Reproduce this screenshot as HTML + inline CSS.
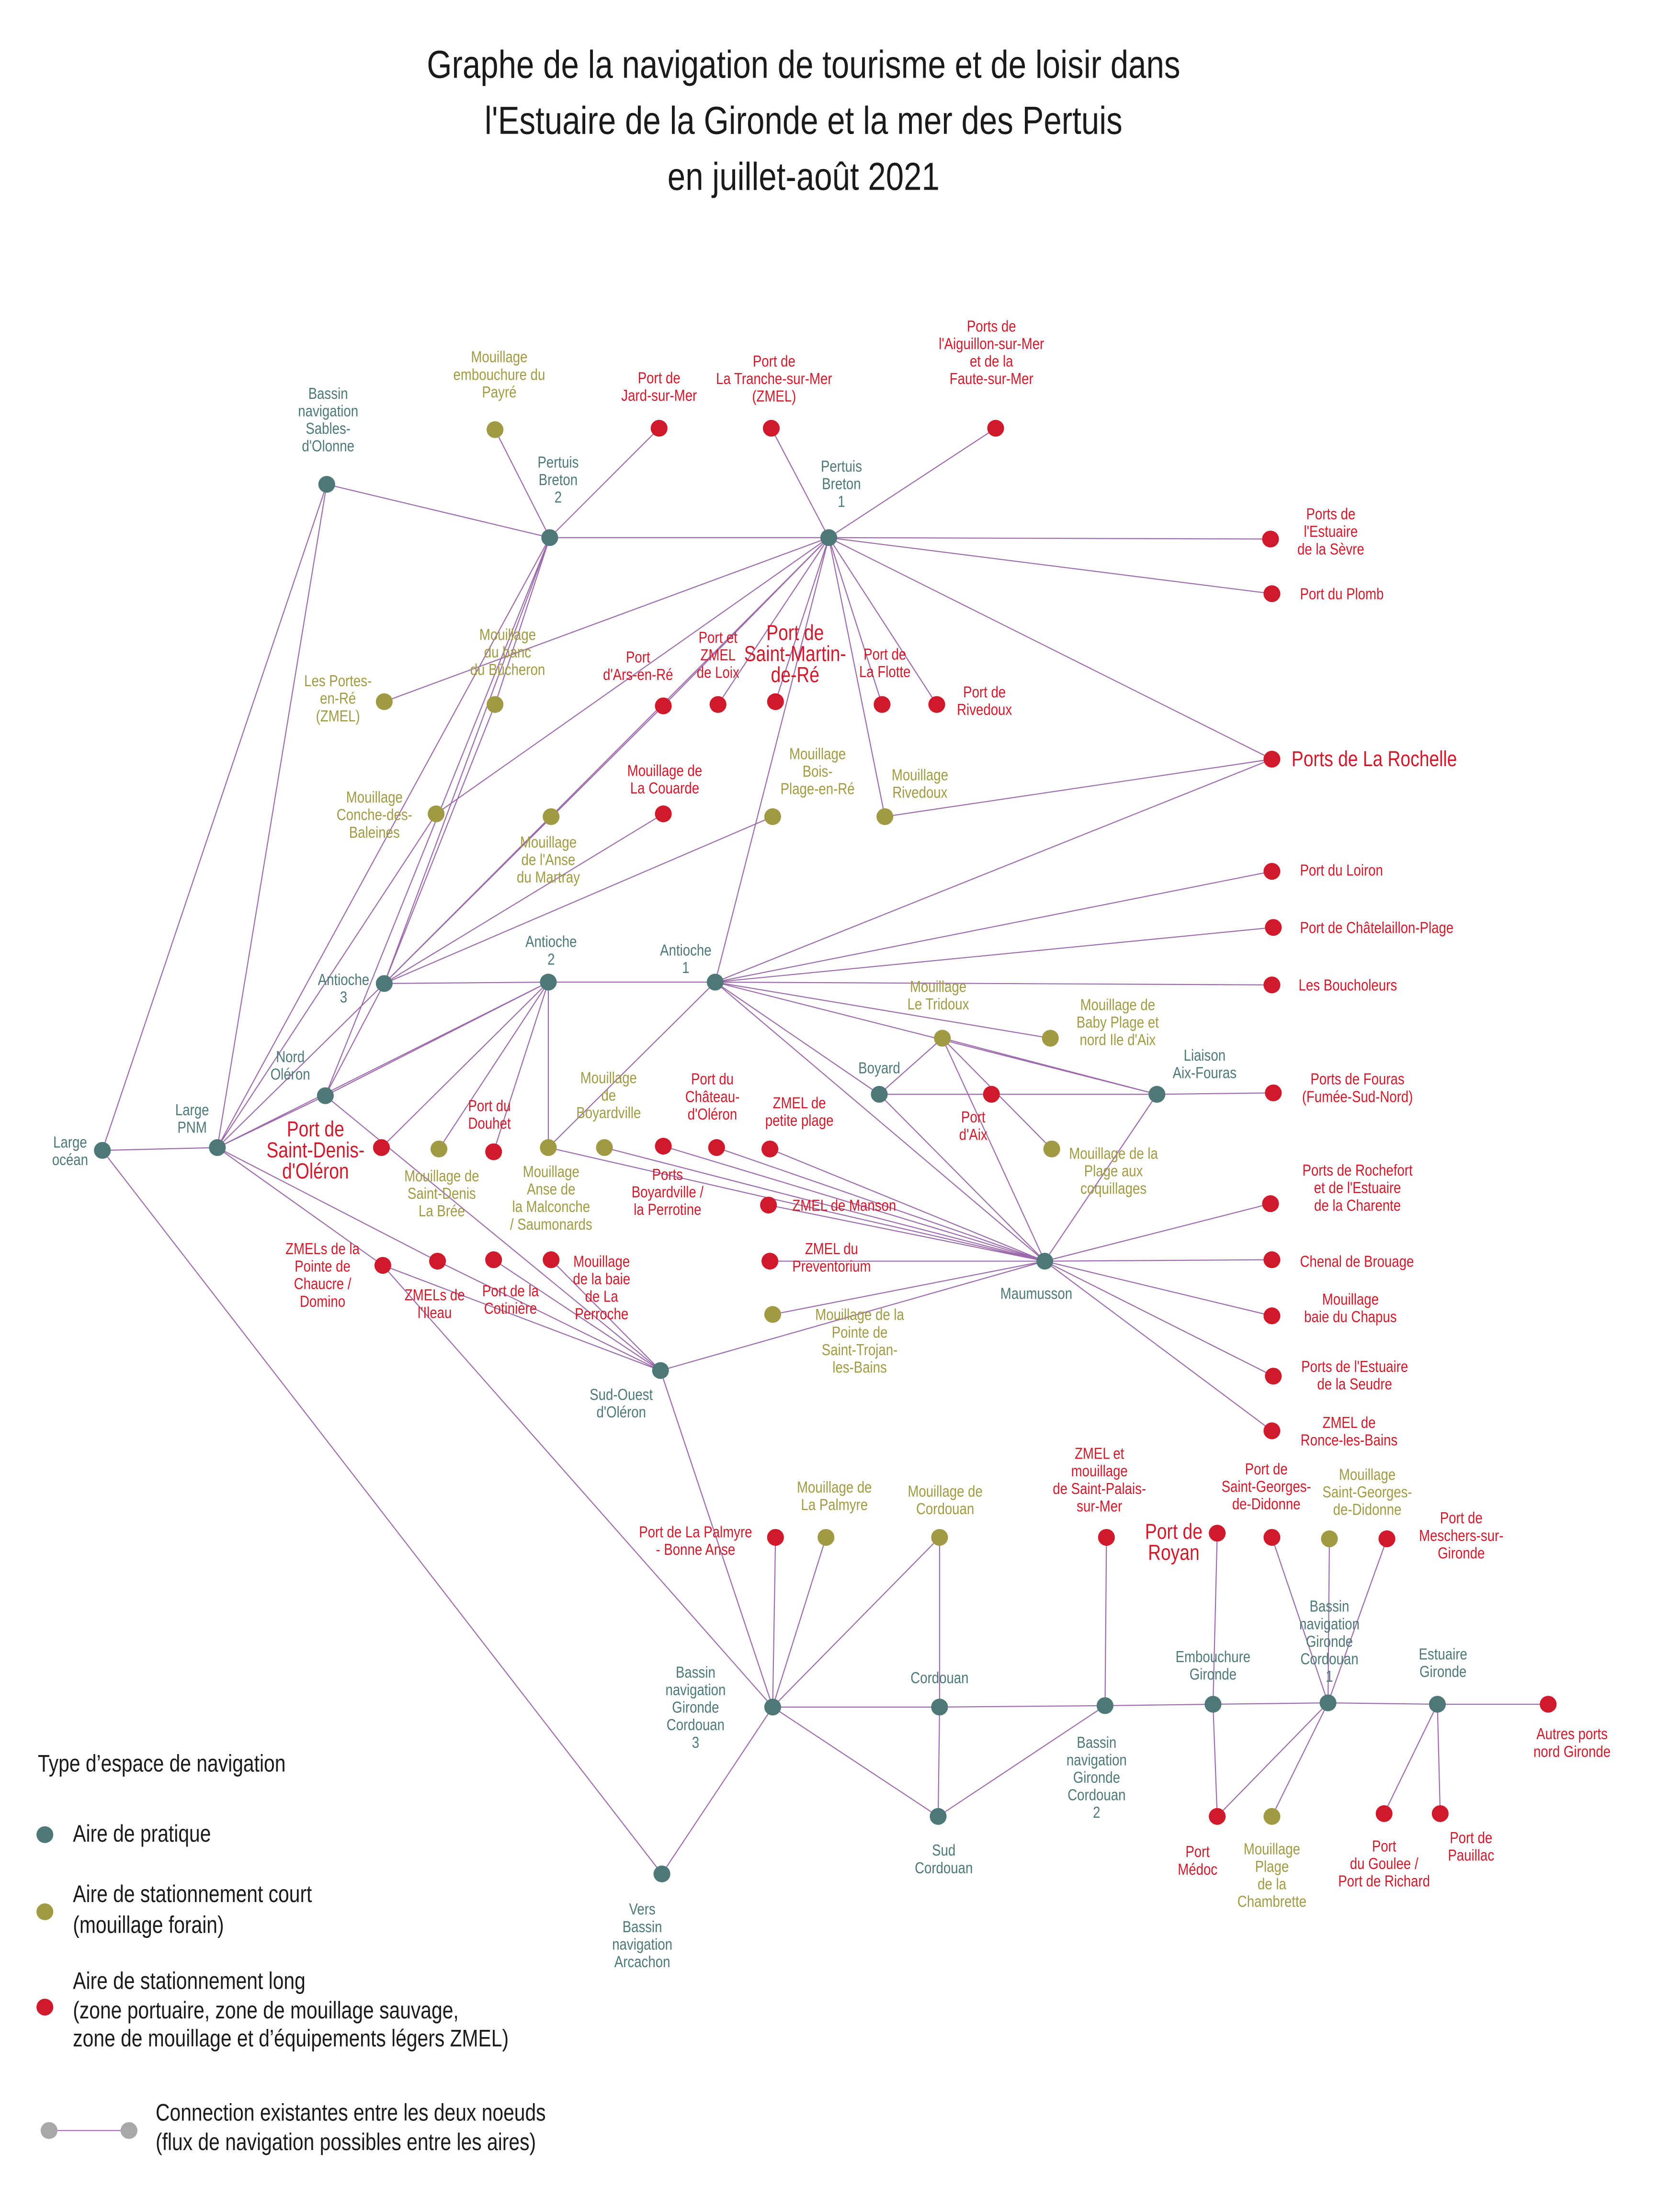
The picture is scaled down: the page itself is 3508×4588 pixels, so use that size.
<!DOCTYPE html>
<html><head><meta charset="utf-8"><style>
html,body{margin:0;padding:0;background:#fff}
svg{display:block}
text{font-family:"Liberation Sans Narrow","Liberation Sans",sans-serif;font-size:11.5px;transform-box:fill-box;transform-origin:center;transform:scaleX(0.82)}
.L text,text.L{transform-origin:left center}
.t{fill:#4e7878}.o{fill:#a09a44}.r{fill:#cf1a2c}
.big{font-size:15.5px}
line{stroke:#9c6aab;stroke-width:0.75}
</style></head><body>
<svg width="3508" height="4588" viewBox="0 0 1198 1566" xmlns="http://www.w3.org/2000/svg">
<rect width="1198" height="1566" fill="#fff"/>
<g text-anchor="middle" fill="#1a1a1a">
<text x="573" y="55" style="font-size:28px;fill:#1a1a1a">Graphe de la navigation de tourisme et de loisir dans</text>
<text x="573" y="95" style="font-size:28px;fill:#1a1a1a">l'Estuaire de la Gironde et la mer des Pertuis</text>
<text x="573" y="135" style="font-size:28px;fill:#1a1a1a">en juillet-août 2021</text>
</g>
<g id="edges">
<line x1="73" y1="820" x2="155" y2="818"/>
<line x1="73" y1="820" x2="233" y2="345"/>
<line x1="73" y1="820" x2="472" y2="1336"/>
<line x1="155" y1="818" x2="233" y2="345"/>
<line x1="155" y1="818" x2="392" y2="383"/>
<line x1="155" y1="818" x2="274" y2="701"/>
<line x1="155" y1="818" x2="232" y2="781"/>
<line x1="155" y1="818" x2="391" y2="700"/>
<line x1="155" y1="818" x2="312" y2="899"/>
<line x1="155" y1="818" x2="273" y2="902"/>
<line x1="155" y1="818" x2="311" y2="580"/>
<line x1="233" y1="345" x2="392" y2="383"/>
<line x1="392" y1="383" x2="591" y2="383"/>
<line x1="591" y1="383" x2="906" y2="384"/>
<line x1="392" y1="383" x2="353" y2="306"/>
<line x1="392" y1="383" x2="470" y2="305"/>
<line x1="392" y1="383" x2="274" y2="701"/>
<line x1="392" y1="383" x2="232" y2="781"/>
<line x1="392" y1="383" x2="353" y2="502"/>
<line x1="591" y1="383" x2="550" y2="305"/>
<line x1="591" y1="383" x2="710" y2="305"/>
<line x1="591" y1="383" x2="907" y2="423"/>
<line x1="591" y1="383" x2="907" y2="541"/>
<line x1="591" y1="383" x2="274" y2="500"/>
<line x1="591" y1="383" x2="311" y2="580"/>
<line x1="591" y1="383" x2="274" y2="701"/>
<line x1="591" y1="383" x2="473" y2="503"/>
<line x1="591" y1="383" x2="512" y2="502"/>
<line x1="591" y1="383" x2="553" y2="500"/>
<line x1="591" y1="383" x2="629" y2="502"/>
<line x1="591" y1="383" x2="668" y2="502"/>
<line x1="591" y1="383" x2="631" y2="582"/>
<line x1="591" y1="383" x2="510" y2="700"/>
<line x1="274" y1="701" x2="473" y2="503"/>
<line x1="274" y1="701" x2="353" y2="502"/>
<line x1="274" y1="701" x2="393" y2="582"/>
<line x1="274" y1="701" x2="473" y2="580"/>
<line x1="274" y1="701" x2="551" y2="582"/>
<line x1="274" y1="701" x2="391" y2="700"/>
<line x1="274" y1="701" x2="232" y2="781"/>
<line x1="391" y1="700" x2="510" y2="700"/>
<line x1="391" y1="700" x2="232" y2="781"/>
<line x1="391" y1="700" x2="272" y2="818"/>
<line x1="391" y1="700" x2="313" y2="819"/>
<line x1="391" y1="700" x2="352" y2="821"/>
<line x1="391" y1="700" x2="391" y2="818"/>
<line x1="232" y1="781" x2="471" y2="977"/>
<line x1="907" y1="541" x2="631" y2="582"/>
<line x1="907" y1="541" x2="510" y2="700"/>
<line x1="510" y1="700" x2="907" y2="621"/>
<line x1="510" y1="700" x2="908" y2="661"/>
<line x1="510" y1="700" x2="907" y2="702"/>
<line x1="510" y1="700" x2="749" y2="740"/>
<line x1="510" y1="700" x2="825" y2="780"/>
<line x1="510" y1="700" x2="627" y2="780"/>
<line x1="510" y1="700" x2="745" y2="899"/>
<line x1="510" y1="700" x2="391" y2="818"/>
<line x1="627" y1="780" x2="672" y2="740"/>
<line x1="627" y1="780" x2="825" y2="780"/>
<line x1="672" y1="740" x2="825" y2="780"/>
<line x1="672" y1="740" x2="750" y2="819"/>
<line x1="672" y1="740" x2="745" y2="899"/>
<line x1="825" y1="780" x2="908" y2="779"/>
<line x1="825" y1="780" x2="745" y2="899"/>
<line x1="627" y1="780" x2="745" y2="899"/>
<line x1="745" y1="899" x2="906" y2="858"/>
<line x1="745" y1="899" x2="907" y2="898"/>
<line x1="745" y1="899" x2="907" y2="938"/>
<line x1="745" y1="899" x2="908" y2="981"/>
<line x1="745" y1="899" x2="907" y2="1020"/>
<line x1="745" y1="899" x2="549" y2="899"/>
<line x1="745" y1="899" x2="548" y2="859"/>
<line x1="745" y1="899" x2="549" y2="819"/>
<line x1="745" y1="899" x2="511" y2="818"/>
<line x1="745" y1="899" x2="473" y2="817"/>
<line x1="745" y1="899" x2="431" y2="818"/>
<line x1="745" y1="899" x2="391" y2="818"/>
<line x1="745" y1="899" x2="551" y2="937"/>
<line x1="745" y1="899" x2="471" y2="977"/>
<line x1="471" y1="977" x2="273" y2="902"/>
<line x1="471" y1="977" x2="312" y2="899"/>
<line x1="471" y1="977" x2="352" y2="898"/>
<line x1="471" y1="977" x2="393" y2="898"/>
<line x1="471" y1="977" x2="551" y2="1217"/>
<line x1="273" y1="902" x2="551" y2="1217"/>
<line x1="472" y1="1336" x2="551" y2="1217"/>
<line x1="551" y1="1217" x2="553" y2="1096"/>
<line x1="551" y1="1217" x2="589" y2="1096"/>
<line x1="551" y1="1217" x2="670" y2="1096"/>
<line x1="551" y1="1217" x2="670" y2="1217"/>
<line x1="551" y1="1217" x2="669" y2="1295"/>
<line x1="670" y1="1217" x2="670" y2="1096"/>
<line x1="670" y1="1217" x2="669" y2="1295"/>
<line x1="670" y1="1217" x2="788" y2="1216"/>
<line x1="669" y1="1295" x2="788" y2="1216"/>
<line x1="788" y1="1216" x2="789" y2="1096"/>
<line x1="788" y1="1216" x2="865" y2="1215"/>
<line x1="865" y1="1215" x2="868" y2="1093"/>
<line x1="865" y1="1215" x2="868" y2="1295"/>
<line x1="865" y1="1215" x2="947" y2="1214"/>
<line x1="947" y1="1214" x2="868" y2="1295"/>
<line x1="947" y1="1214" x2="907" y2="1295"/>
<line x1="947" y1="1214" x2="907" y2="1096"/>
<line x1="947" y1="1214" x2="948" y2="1097"/>
<line x1="947" y1="1214" x2="989" y2="1097"/>
<line x1="947" y1="1214" x2="1025" y2="1215"/>
<line x1="1025" y1="1215" x2="1104" y2="1215"/>
<line x1="1025" y1="1215" x2="987" y2="1293"/>
<line x1="1025" y1="1215" x2="1027" y2="1293"/>
</g>
<g class="t">
<circle cx="73" cy="820" r="6"/><circle cx="155" cy="818" r="6"/><circle cx="233" cy="345" r="6"/>
<circle cx="392" cy="383" r="6"/><circle cx="591" cy="383" r="6"/><circle cx="274" cy="701" r="6"/>
<circle cx="391" cy="700" r="6"/><circle cx="510" cy="700" r="6"/><circle cx="232" cy="781" r="6"/>
<circle cx="627" cy="780" r="6"/><circle cx="825" cy="780" r="6"/><circle cx="745" cy="899" r="6"/>
<circle cx="471" cy="977" r="6"/><circle cx="551" cy="1217" r="6"/><circle cx="670" cy="1217" r="6"/>
<circle cx="788" cy="1216" r="6"/><circle cx="865" cy="1215" r="6"/><circle cx="947" cy="1214" r="6"/>
<circle cx="1025" cy="1215" r="6"/><circle cx="669" cy="1295" r="6"/><circle cx="472" cy="1336" r="6"/>
</g>
<g class="o">
<circle cx="353" cy="306" r="6"/><circle cx="353" cy="502" r="6"/><circle cx="274" cy="500" r="6"/>
<circle cx="311" cy="580" r="6"/><circle cx="393" cy="582" r="6"/><circle cx="551" cy="582" r="6"/>
<circle cx="631" cy="582" r="6"/><circle cx="672" cy="740" r="6"/><circle cx="749" cy="740" r="6"/>
<circle cx="750" cy="819" r="6"/><circle cx="313" cy="819" r="6"/><circle cx="391" cy="818" r="6"/>
<circle cx="431" cy="818" r="6"/><circle cx="551" cy="937" r="6"/><circle cx="589" cy="1096" r="6"/>
<circle cx="670" cy="1096" r="6"/><circle cx="948" cy="1097" r="6"/><circle cx="907" cy="1295" r="6"/>
</g>
<g class="r">
<circle cx="470" cy="305" r="6"/><circle cx="550" cy="305" r="6"/><circle cx="710" cy="305" r="6"/>
<circle cx="906" cy="384" r="6"/><circle cx="907" cy="423" r="6"/><circle cx="473" cy="503" r="6"/>
<circle cx="512" cy="502" r="6"/><circle cx="553" cy="500" r="6"/><circle cx="629" cy="502" r="6"/>
<circle cx="668" cy="502" r="6"/><circle cx="907" cy="541" r="6"/><circle cx="473" cy="580" r="6"/>
<circle cx="907" cy="621" r="6"/><circle cx="908" cy="661" r="6"/><circle cx="907" cy="702" r="6"/>
<circle cx="707" cy="780" r="6"/><circle cx="908" cy="779" r="6"/><circle cx="272" cy="818" r="6"/>
<circle cx="352" cy="821" r="6"/><circle cx="473" cy="817" r="6"/><circle cx="511" cy="818" r="6"/>
<circle cx="549" cy="819" r="6"/><circle cx="548" cy="859" r="6"/><circle cx="549" cy="899" r="6"/>
<circle cx="906" cy="858" r="6"/><circle cx="907" cy="898" r="6"/><circle cx="907" cy="938" r="6"/>
<circle cx="908" cy="981" r="6"/><circle cx="907" cy="1020" r="6"/><circle cx="273" cy="902" r="6"/>
<circle cx="312" cy="899" r="6"/><circle cx="352" cy="898" r="6"/><circle cx="393" cy="898" r="6"/>
<circle cx="553" cy="1096" r="6"/><circle cx="789" cy="1096" r="6"/><circle cx="868" cy="1093" r="6"/>
<circle cx="907" cy="1096" r="6"/><circle cx="989" cy="1097" r="6"/><circle cx="1104" cy="1215" r="6"/>
<circle cx="868" cy="1295" r="6"/><circle cx="987" cy="1293" r="6"/><circle cx="1027" cy="1293" r="6"/>
</g>
<g text-anchor="middle" class="t">
<text x="50" y="818"><tspan x="50">Large</tspan><tspan x="50" dy="12.5">océan</tspan></text>
<text x="137" y="795"><tspan x="137">Large</tspan><tspan x="137" dy="12.5">PNM</tspan></text>
<text y="284"><tspan x="234">Bassin</tspan><tspan x="234" dy="12.5">navigation</tspan><tspan x="234" dy="12.5">Sables-</tspan><tspan x="234" dy="12.5">d'Olonne</tspan></text>
<text y="333"><tspan x="398">Pertuis</tspan><tspan x="398" dy="12.5">Breton</tspan><tspan x="398" dy="12.5">2</tspan></text>
<text y="336"><tspan x="600">Pertuis</tspan><tspan x="600" dy="12.5">Breton</tspan><tspan x="600" dy="12.5">1</tspan></text>
<text y="702"><tspan x="245">Antioche</tspan><tspan x="245" dy="12.5">3</tspan></text>
<text y="675"><tspan x="393">Antioche</tspan><tspan x="393" dy="12.5">2</tspan></text>
<text y="681"><tspan x="489">Antioche</tspan><tspan x="489" dy="12.5">1</tspan></text>
<text y="757"><tspan x="207">Nord</tspan><tspan x="207" dy="12.5">Oléron</tspan></text>
<text x="627" y="765">Boyard</text>
<text y="756"><tspan x="859">Liaison</tspan><tspan x="859" dy="12.5">Aix-Fouras</tspan></text>
<text x="739" y="926">Maumusson</text>
<text y="998"><tspan x="443">Sud-Ouest</tspan><tspan x="443" dy="12.5">d'Oléron</tspan></text>
<text y="1196"><tspan x="496">Bassin</tspan><tspan x="496" dy="12.5">navigation</tspan><tspan x="496" dy="12.5">Gironde</tspan><tspan x="496" dy="12.5">Cordouan</tspan><tspan x="496" dy="12.5">3</tspan></text>
<text x="670" y="1200">Cordouan</text>
<text y="1246"><tspan x="782">Bassin</tspan><tspan x="782" dy="12.5">navigation</tspan><tspan x="782" dy="12.5">Gironde</tspan><tspan x="782" dy="12.5">Cordouan</tspan><tspan x="782" dy="12.5">2</tspan></text>
<text y="1185"><tspan x="865">Embouchure</tspan><tspan x="865" dy="12.5">Gironde</tspan></text>
<text y="1149"><tspan x="948">Bassin</tspan><tspan x="948" dy="12.5">navigation</tspan><tspan x="948" dy="12.5">Gironde</tspan><tspan x="948" dy="12.5">Cordouan</tspan><tspan x="948" dy="12.5">1</tspan></text>
<text y="1183"><tspan x="1029">Estuaire</tspan><tspan x="1029" dy="12.5">Gironde</tspan></text>
<text y="1323"><tspan x="673">Sud</tspan><tspan x="673" dy="12.5">Cordouan</tspan></text>
<text y="1365"><tspan x="458">Vers</tspan><tspan x="458" dy="12.5">Bassin</tspan><tspan x="458" dy="12.5">navigation</tspan><tspan x="458" dy="12.5">Arcachon</tspan></text>
</g>
<g text-anchor="middle" class="o">
<text y="258"><tspan x="356">Mouillage</tspan><tspan x="356" dy="12.5">embouchure du</tspan><tspan x="356" dy="12.5">Payré</tspan></text>
<text y="456"><tspan x="362">Mouillage</tspan><tspan x="362" dy="12.5">du banc</tspan><tspan x="362" dy="12.5">du Bûcheron</tspan></text>
<text y="489"><tspan x="241">Les Portes-</tspan><tspan x="241" dy="12.5">en-Ré</tspan><tspan x="241" dy="12.5">(ZMEL)</tspan></text>
<text y="572"><tspan x="267">Mouillage</tspan><tspan x="267" dy="12.5">Conche-des-</tspan><tspan x="267" dy="12.5">Baleines</tspan></text>
<text y="604"><tspan x="391">Mouillage</tspan><tspan x="391" dy="12.5">de l'Anse</tspan><tspan x="391" dy="12.5">du Martray</tspan></text>
<text y="541"><tspan x="583">Mouillage</tspan><tspan x="583" dy="12.5">Bois-</tspan><tspan x="583" dy="12.5">Plage-en-Ré</tspan></text>
<text y="556"><tspan x="656">Mouillage</tspan><tspan x="656" dy="12.5">Rivedoux</tspan></text>
<text y="707"><tspan x="669">Mouillage</tspan><tspan x="669" dy="12.5">Le Tridoux</tspan></text>
<text y="720"><tspan x="797">Mouillage de</tspan><tspan x="797" dy="12.5">Baby Plage et</tspan><tspan x="797" dy="12.5">nord Ile d'Aix</tspan></text>
<text y="826"><tspan x="794">Mouillage de la</tspan><tspan x="794" dy="12.5">Plage aux</tspan><tspan x="794" dy="12.5">coquillages</tspan></text>
<text y="842"><tspan x="315">Mouillage de</tspan><tspan x="315" dy="12.5">Saint-Denis</tspan><tspan x="315" dy="12.5">La Brée</tspan></text>
<text y="839"><tspan x="393">Mouillage</tspan><tspan x="393" dy="12.5">Anse de</tspan><tspan x="393" dy="12.5">la Malconche</tspan><tspan x="393" dy="12.5">/ Saumonards</tspan></text>
<text y="772"><tspan x="434">Mouillage</tspan><tspan x="434" dy="12.5">de</tspan><tspan x="434" dy="12.5">Boyardville</tspan></text>
<text y="941"><tspan x="613">Mouillage de la</tspan><tspan x="613" dy="12.5">Pointe de</tspan><tspan x="613" dy="12.5">Saint-Trojan-</tspan><tspan x="613" dy="12.5">les-Bains</tspan></text>
<text y="1064"><tspan x="595">Mouillage de</tspan><tspan x="595" dy="12.5">La Palmyre</tspan></text>
<text y="1067"><tspan x="674">Mouillage de</tspan><tspan x="674" dy="12.5">Cordouan</tspan></text>
<text y="1055"><tspan x="975">Mouillage</tspan><tspan x="975" dy="12.5">Saint-Georges-</tspan><tspan x="975" dy="12.5">de-Didonne</tspan></text>
<text y="1322"><tspan x="907">Mouillage</tspan><tspan x="907" dy="12.5">Plage</tspan><tspan x="907" dy="12.5">de la</tspan><tspan x="907" dy="12.5">Chambrette</tspan></text>
</g>
<g text-anchor="middle" class="r">
<text y="273"><tspan x="470">Port de</tspan><tspan x="470" dy="12.5">Jard-sur-Mer</tspan></text>
<text y="261"><tspan x="552">Port de</tspan><tspan x="552" dy="12.5">La Tranche-sur-Mer</tspan><tspan x="552" dy="12.5">(ZMEL)</tspan></text>
<text y="236"><tspan x="707">Ports de</tspan><tspan x="707" dy="12.5">l'Aiguillon-sur-Mer</tspan><tspan x="707" dy="12.5">et de la</tspan><tspan x="707" dy="12.5">Faute-sur-Mer</tspan></text>
<text y="370"><tspan x="949">Ports de</tspan><tspan x="949" dy="12.5">l'Estuaire</tspan><tspan x="949" dy="12.5">de la Sèvre</tspan></text>
<text y="472"><tspan x="455">Port</tspan><tspan x="455" dy="12.5">d'Ars-en-Ré</tspan></text>
<text y="458"><tspan x="512">Port et</tspan><tspan x="512" dy="12.5">ZMEL</tspan><tspan x="512" dy="12.5">de Loix</tspan></text>
<text y="456" class="big"><tspan x="567">Port de</tspan><tspan x="567" dy="15">Saint-Martin-</tspan><tspan x="567" dy="15">de-Ré</tspan></text>
<text y="470"><tspan x="631">Port de</tspan><tspan x="631" dy="12.5">La Flotte</tspan></text>
<text y="497"><tspan x="702">Port de</tspan><tspan x="702" dy="12.5">Rivedoux</tspan></text>
<text y="553"><tspan x="474">Mouillage de</tspan><tspan x="474" dy="12.5">La Couarde</tspan></text>
<text y="800"><tspan x="694">Port</tspan><tspan x="694" dy="12.5">d'Aix</tspan></text>
<text y="773"><tspan x="968">Ports de Fouras</tspan><tspan x="968" dy="12.5">(Fumée-Sud-Nord)</tspan></text>
<text y="810" class="big"><tspan x="225">Port de</tspan><tspan x="225" dy="15">Saint-Denis-</tspan><tspan x="225" dy="15">d'Oléron</tspan></text>
<text y="792"><tspan x="349">Port du</tspan><tspan x="349" dy="12.5">Douhet</tspan></text>
<text y="773"><tspan x="508">Port du</tspan><tspan x="508" dy="12.5">Château-</tspan><tspan x="508" dy="12.5">d'Oléron</tspan></text>
<text y="790"><tspan x="570">ZMEL de</tspan><tspan x="570" dy="12.5">petite plage</tspan></text>
<text y="841"><tspan x="476">Ports</tspan><tspan x="476" dy="12.5">Boyardville /</tspan><tspan x="476" dy="12.5">la Perrotine</tspan></text>
<text y="894"><tspan x="593">ZMEL du</tspan><tspan x="593" dy="12.5">Preventorium</tspan></text>
<text y="838"><tspan x="968">Ports de Rochefort</tspan><tspan x="968" dy="12.5">et de l'Estuaire</tspan><tspan x="968" dy="12.5">de la Charente</tspan></text>
<text y="930"><tspan x="963">Mouillage</tspan><tspan x="963" dy="12.5">baie du Chapus</tspan></text>
<text y="978"><tspan x="966">Ports de l'Estuaire</tspan><tspan x="966" dy="12.5">de la Seudre</tspan></text>
<text y="1018"><tspan x="962">ZMEL de</tspan><tspan x="962" dy="12.5">Ronce-les-Bains</tspan></text>
<text y="894"><tspan x="230">ZMELs de la</tspan><tspan x="230" dy="12.5">Pointe de</tspan><tspan x="230" dy="12.5">Chaucre /</tspan><tspan x="230" dy="12.5">Domino</tspan></text>
<text y="927"><tspan x="310">ZMELs de</tspan><tspan x="310" dy="12.5">l'Ileau</tspan></text>
<text y="924"><tspan x="364">Port de la</tspan><tspan x="364" dy="12.5">Cotinière</tspan></text>
<text y="903"><tspan x="429">Mouillage</tspan><tspan x="429" dy="12.5">de la baie</tspan><tspan x="429" dy="12.5">de La</tspan><tspan x="429" dy="12.5">Perroche</tspan></text>
<text y="1096"><tspan x="496">Port de La Palmyre</tspan><tspan x="496" dy="12.5">- Bonne Anse</tspan></text>
<text y="1040"><tspan x="784">ZMEL et</tspan><tspan x="784" dy="12.5">mouillage</tspan><tspan x="784" dy="12.5">de Saint-Palais-</tspan><tspan x="784" dy="12.5">sur-Mer</tspan></text>
<text y="1097" class="big"><tspan x="837">Port de</tspan><tspan x="837" dy="15">Royan</tspan></text>
<text y="1051"><tspan x="903">Port de</tspan><tspan x="903" dy="12.5">Saint-Georges-</tspan><tspan x="903" dy="12.5">de-Didonne</tspan></text>
<text y="1086"><tspan x="1042">Port de</tspan><tspan x="1042" dy="12.5">Meschers-sur-</tspan><tspan x="1042" dy="12.5">Gironde</tspan></text>
<text y="1240"><tspan x="1121">Autres ports</tspan><tspan x="1121" dy="12.5">nord Gironde</tspan></text>
<text y="1324"><tspan x="854">Port</tspan><tspan x="854" dy="12.5">Médoc</tspan></text>
<text y="1320"><tspan x="987">Port</tspan><tspan x="987" dy="12.5">du Goulee /</tspan><tspan x="987" dy="12.5">Port de Richard</tspan></text>
<text y="1314"><tspan x="1049">Port de</tspan><tspan x="1049" dy="12.5">Pauillac</tspan></text>
</g>
<g class="r L">
<text x="927" y="427">Port du Plomb</text>
<text x="921" y="546" class="big">Ports de La Rochelle</text>
<text x="927" y="624">Port du Loiron</text>
<text x="927" y="665">Port de Châtelaillon-Plage</text>
<text x="926" y="706">Les Boucholeurs</text>
<text x="565" y="863">ZMEL de Manson</text>
<text x="927" y="903">Chenal de Brouage</text>
</g>
<g class="L" style="fill:#1a1a1a">
<text x="27" y="1263" style="font-size:17px">Type d’espace de navigation</text>
<circle cx="32" cy="1308" r="6" fill="#4e7878"/>
<text x="52" y="1313" style="font-size:17px">Aire de pratique</text>
<circle cx="32" cy="1363" r="6" fill="#a09a44"/>
<text x="52" y="1356" style="font-size:17px">Aire de stationnement court</text>
<text x="52" y="1378" style="font-size:17px">(mouillage forain)</text>
<circle cx="32" cy="1431" r="6" fill="#cf1a2c"/>
<text x="52" y="1418" style="font-size:17px">Aire de stationnement long</text>
<text x="52" y="1439" style="font-size:17px">(zone portuaire, zone de mouillage sauvage,</text>
<text x="52" y="1459" style="font-size:17px">zone de mouillage et d’équipements légers ZMEL)</text>
<line x1="35" y1="1519" x2="92" y2="1519"/>
<circle cx="35" cy="1519" r="6" fill="#a8a8a8"/>
<circle cx="92" cy="1519" r="6" fill="#a8a8a8"/>
<text x="111" y="1512" style="font-size:17px">Connection existantes entre les deux noeuds</text>
<text x="111" y="1533" style="font-size:17px">(flux de navigation possibles entre les aires)</text>
</g>
</svg>
</body></html>
